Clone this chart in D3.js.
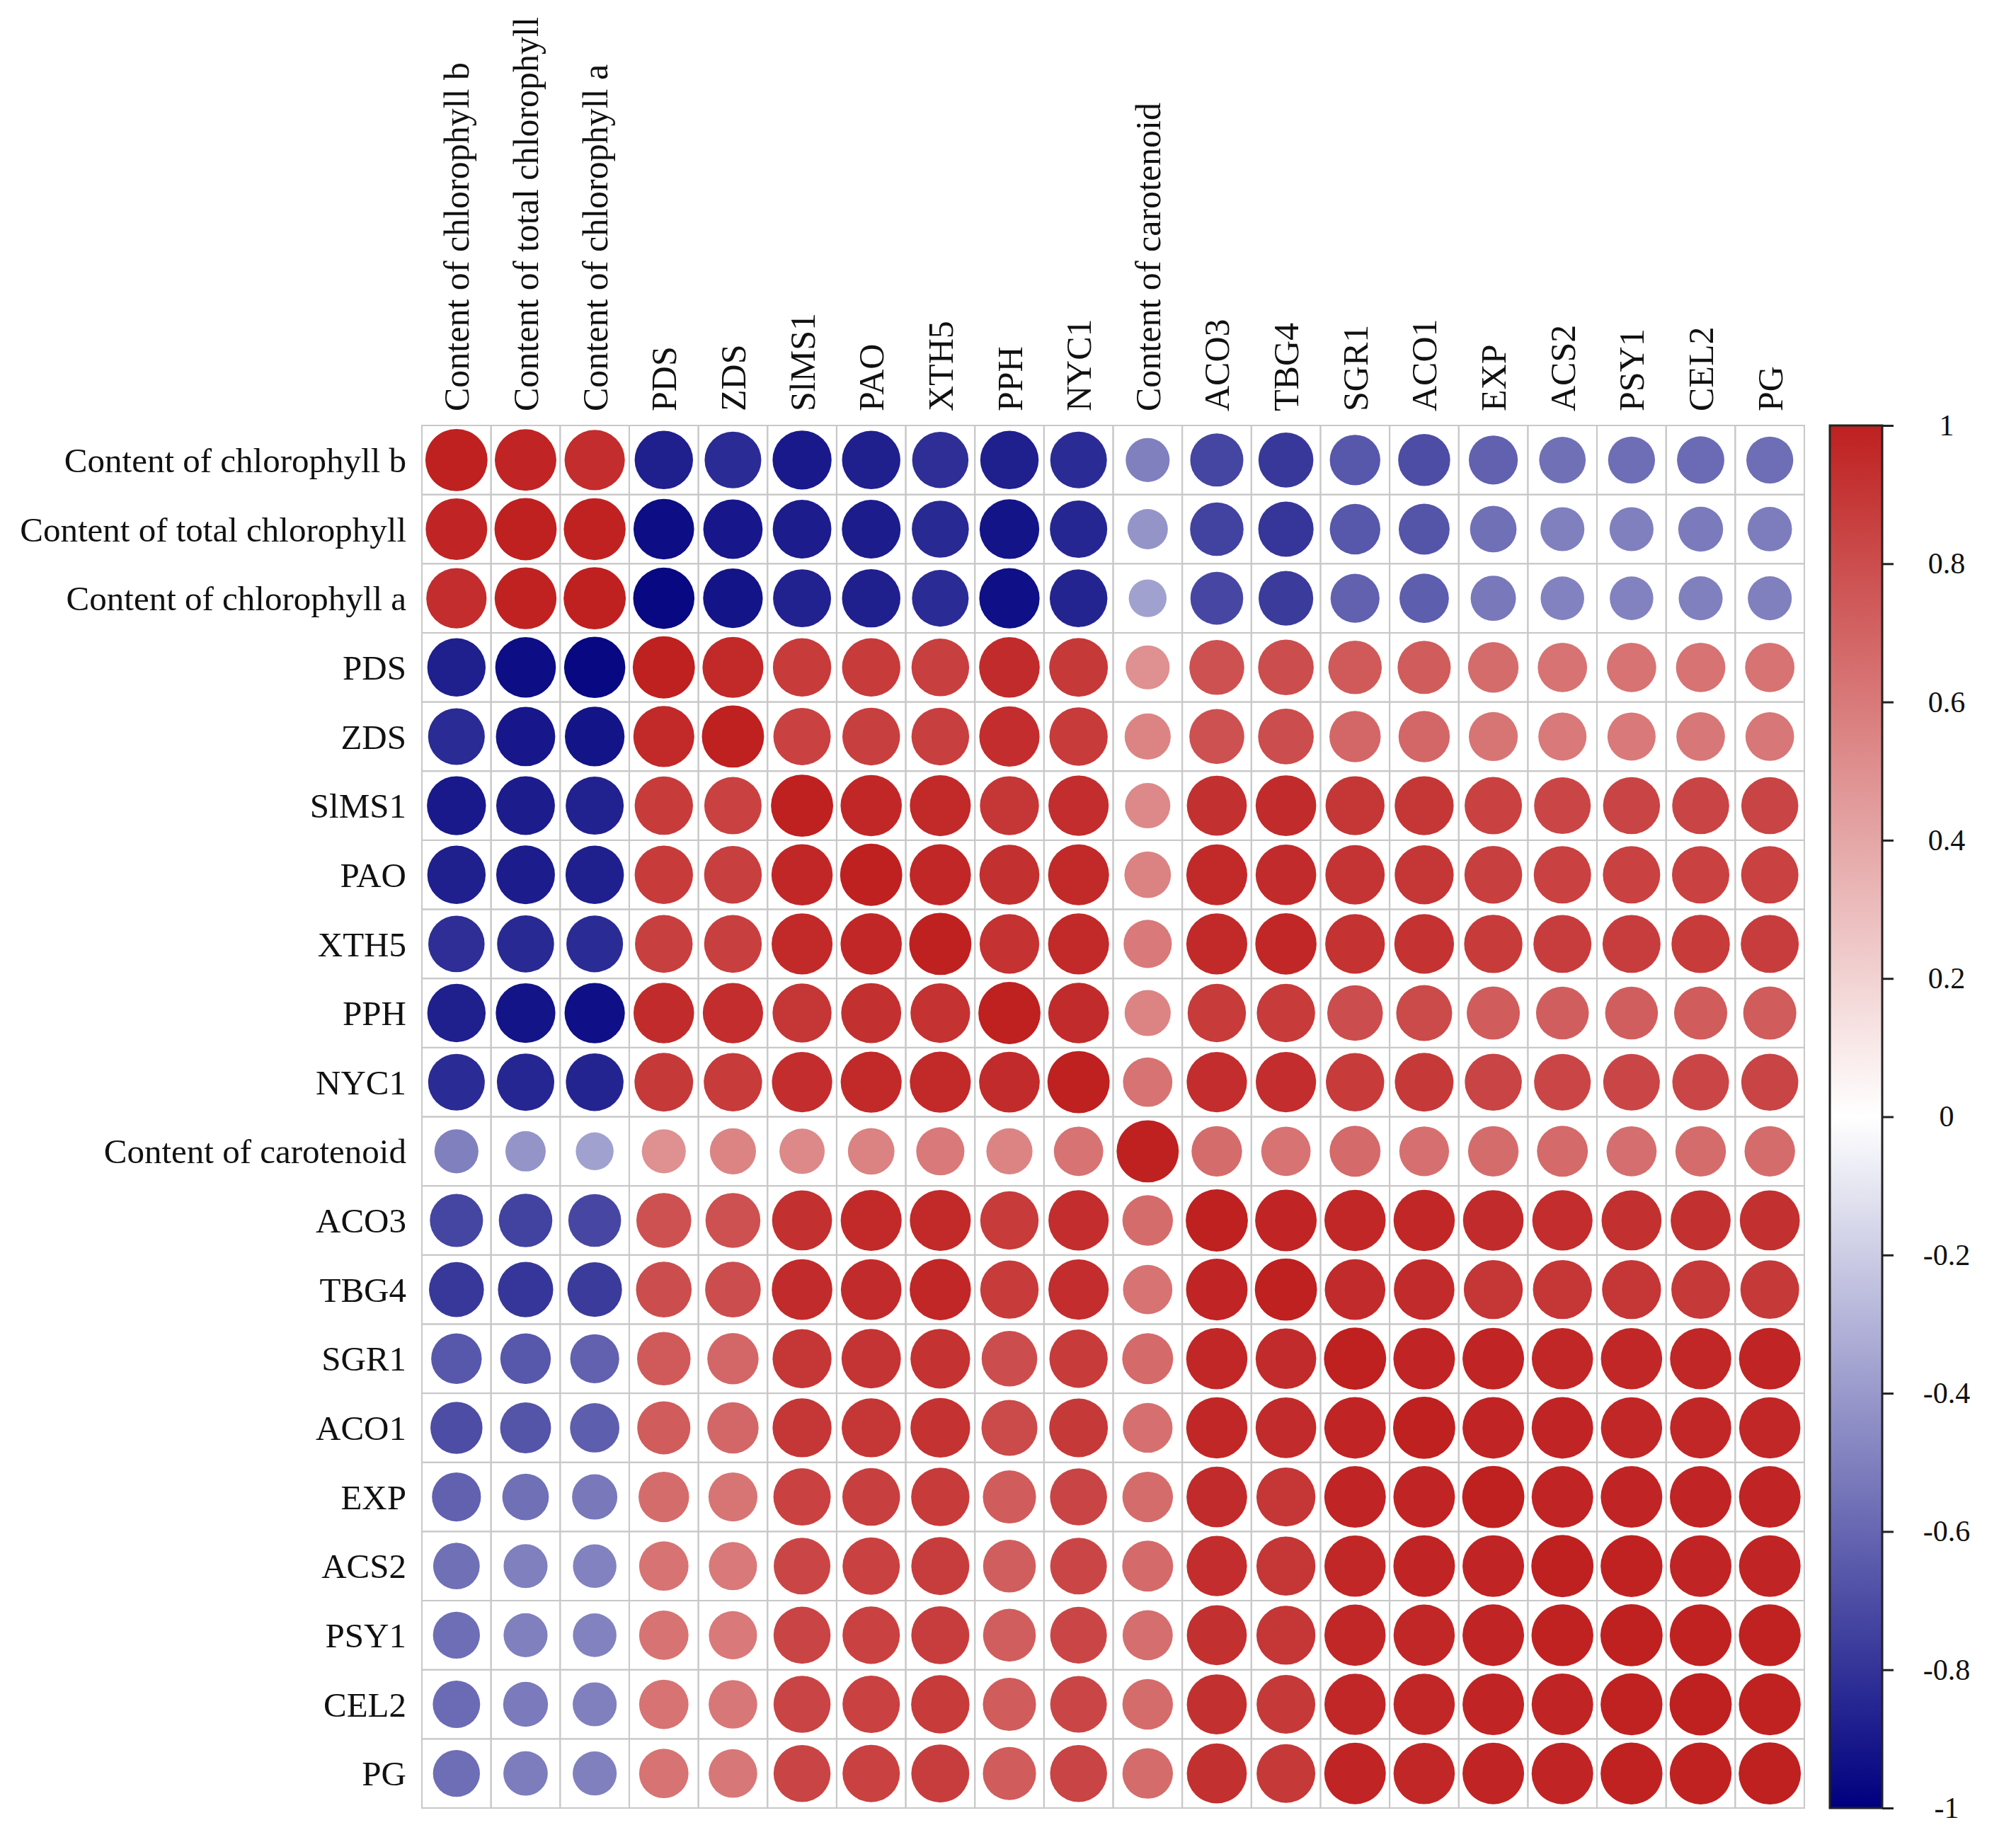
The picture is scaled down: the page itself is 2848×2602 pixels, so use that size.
<!DOCTYPE html>
<html>
<head>
<meta charset="utf-8">
<script src="https://cdn.jsdelivr.net/npm/d3@7"></script>
<style>
  body { margin: 0; background: #fff; }
  text { font-family: "Liberation Serif", "Times New Roman", serif; fill: #111; }
</style>
</head>
<body>
<div id="chart"></div>
<script>
// variable names, same order for rows and columns
const labels = [
    "Content of chlorophyll b", "Content of total chlorophyll", "Content of chlorophyll a",
    "PDS", "ZDS", "SlMS1", "PAO", "XTH5", "PPH", "NYC1", "Content of carotenoid",
    "ACO3", "TBG4", "SGR1", "ACO1", "EXP", "ACS2", "PSY1", "CEL2", "PG"
];

// lower triangle of the correlation matrix (row i, columns 0..i)
const corrLower = [
    [1],
    [0.98, 1],
    [0.94, 0.99, 1],
    [-0.88, -0.95, -0.97, 1],
    [-0.83, -0.91, -0.92, 0.96, 1],
    [-0.90, -0.89, -0.87, 0.88, 0.85, 1],
    [-0.88, -0.89, -0.88, 0.88, 0.86, 0.97, 1],
    [-0.82, -0.84, -0.83, 0.86, 0.86, 0.96, 0.97, 1],
    [-0.88, -0.92, -0.94, 0.95, 0.94, 0.90, 0.93, 0.92, 1],
    [-0.83, -0.85, -0.86, 0.89, 0.88, 0.94, 0.96, 0.96, 0.95, 1],
    [-0.50, -0.42, -0.37, 0.50, 0.55, 0.53, 0.56, 0.60, 0.55, 0.63, 1],
    [-0.73, -0.74, -0.72, 0.78, 0.78, 0.93, 0.96, 0.96, 0.88, 0.94, 0.66, 1],
    [-0.78, -0.79, -0.77, 0.80, 0.80, 0.95, 0.95, 0.97, 0.88, 0.94, 0.63, 0.98, 1],
    [-0.66, -0.66, -0.62, 0.74, 0.68, 0.90, 0.91, 0.92, 0.80, 0.88, 0.67, 0.97, 0.95, 1],
    [-0.70, -0.67, -0.63, 0.73, 0.68, 0.90, 0.90, 0.92, 0.81, 0.89, 0.64, 0.97, 0.95, 0.98, 1],
    [-0.62, -0.56, -0.53, 0.66, 0.62, 0.85, 0.86, 0.88, 0.73, 0.84, 0.66, 0.95, 0.90, 0.98, 0.98, 1],
    [-0.56, -0.50, -0.49, 0.63, 0.60, 0.83, 0.85, 0.87, 0.72, 0.83, 0.67, 0.94, 0.90, 0.97, 0.98, 0.98, 1],
    [-0.57, -0.50, -0.49, 0.63, 0.60, 0.84, 0.85, 0.87, 0.72, 0.83, 0.65, 0.93, 0.90, 0.97, 0.97, 0.98, 0.99, 1],
    [-0.58, -0.52, -0.50, 0.63, 0.61, 0.84, 0.85, 0.88, 0.73, 0.83, 0.66, 0.93, 0.89, 0.97, 0.97, 0.98, 0.98, 0.99, 1],
    [-0.57, -0.51, -0.50, 0.63, 0.61, 0.84, 0.85, 0.87, 0.73, 0.84, 0.66, 0.93, 0.89, 0.98, 0.97, 0.98, 0.98, 0.99, 0.99, 1]
];

const legendTicks = [1, 0.8, 0.6, 0.4, 0.2, 0, -0.2, -0.4, -0.6, -0.8, -1];
const colorStops = ["#00007f", "#ffffff", "#bf2020"];

const width = 2848, height = 2602;
const gridLeft = 596, gridTop = 601, gridSize = 1953;

const svg = d3.select("#chart").append("svg")
    .attr("width", width)
    .attr("height", height);

svg.append("rect").attr("width", width).attr("height", height).attr("fill", "#fff");

// full symmetric matrix as a flat list of cells
let cells = [];
labels.forEach((rowName, i) => {
    labels.forEach((colName, j) => {
        let v = j <= i ? corrLower[i][j] : corrLower[j][i];
        cells.push({row: rowName, col: colName, value: v});
    });
});

let x = d3.scaleBand().domain(labels).range([gridLeft, gridLeft + gridSize]);
let y = d3.scaleBand().domain(labels).range([gridTop, gridTop + gridSize]);
let color = d3.scaleLinear().domain([-1, 0, 1]).range(colorStops);
let radius = d3.scaleSqrt().domain([0, 1]).range([0, x.bandwidth() * 0.45]);

// grid cells
svg.append("g")
    .selectAll("rect")
    .data(cells)
    .enter()
    .append("rect")
    .attr("x", d => x(d.col))
    .attr("y", d => y(d.row))
    .attr("width", x.bandwidth())
    .attr("height", y.bandwidth())
    .attr("fill", "none")
    .attr("stroke", "#c8c8c8")
    .attr("stroke-width", 2);

// circles
svg.append("g")
    .selectAll("circle")
    .data(cells)
    .enter()
    .append("circle")
    .attr("cx", d => x(d.col) + x.bandwidth() / 2)
    .attr("cy", d => y(d.row) + y.bandwidth() / 2)
    .attr("r", d => radius(Math.abs(d.value)))
    .attr("fill", d => color(d.value));

// row labels
svg.append("g")
    .selectAll("text")
    .data(labels)
    .enter()
    .append("text")
    .attr("x", gridLeft - 22)
    .attr("y", d => y(d) + y.bandwidth() / 2)
    .attr("dy", "0.35em")
    .attr("text-anchor", "end")
    .style("font-size", "49px")
    .text(d => d);

// column labels, rotated
svg.append("g")
    .selectAll("text")
    .data(labels)
    .enter()
    .append("text")
    .attr("transform", d => "translate(" + (x(d) + x.bandwidth() / 2) + "," + (gridTop - 20) + ") rotate(-90)")
    .attr("dy", "0.35em")
    .attr("text-anchor", "start")
    .style("font-size", "50px")
    .text(d => d);

// colour legend
const barLeft = 2585, barWidth = 74;
let legendScale = d3.scaleLinear().domain([-1, 1]).range([gridTop + gridSize, gridTop]);

let grad = svg.append("defs").append("linearGradient")
    .attr("id", "legendGrad")
    .attr("x1", 0).attr("y1", 1).attr("x2", 0).attr("y2", 0);
d3.range(-1, 1.0001, 0.1).forEach(v => {
    grad.append("stop")
        .attr("offset", (v + 1) / 2)
        .attr("stop-color", color(v));
});

svg.append("rect")
    .attr("x", barLeft)
    .attr("y", gridTop)
    .attr("width", barWidth)
    .attr("height", gridSize)
    .attr("fill", "url(#legendGrad)")
    .attr("stroke", "#222")
    .attr("stroke-width", 3);

let legendAxis = d3.axisRight(legendScale)
    .tickValues(legendTicks)
    .tickSize(16)
    .tickPadding(0)
    .tickFormat(d => String(d));   // plain hyphen, like the original

let axisG = svg.append("g")
    .attr("transform", "translate(" + (barLeft + barWidth) + ",0)")
    .call(legendAxis);

axisG.select(".domain").remove();
axisG.selectAll(".tick line").attr("stroke", "#222").attr("stroke-width", 3);
axisG.selectAll(".tick text")
    .attr("x", 91)
    .attr("text-anchor", "middle")
    .style("font-family", "'Liberation Serif', 'Times New Roman', serif")
    .style("font-size", "42px")
    .attr("fill", "#111");
</script>
</body>
</html>
